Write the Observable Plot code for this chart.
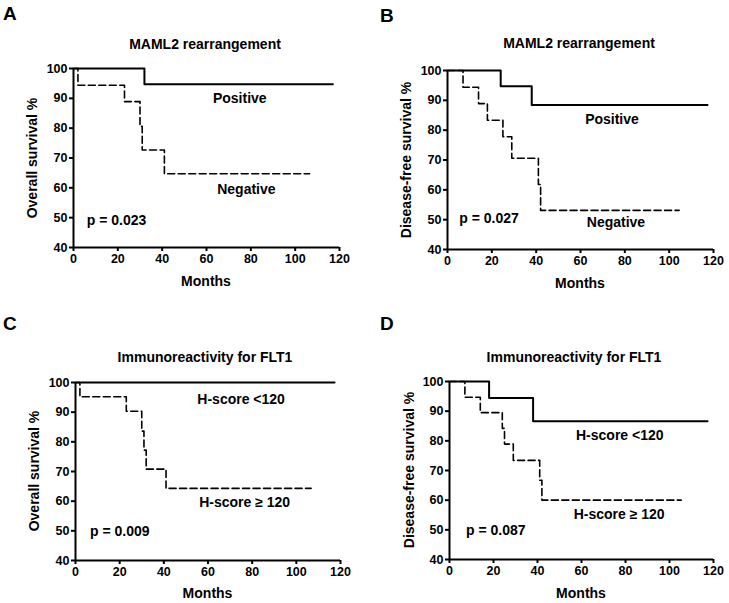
<!DOCTYPE html>
<html>
<head>
<meta charset="utf-8">
<script src="https://cdn.jsdelivr.net/npm/d3@7"></script>
<script src="https://cdn.jsdelivr.net/npm/@observablehq/plot@0.6"></script>
<style>
  html, body { margin: 0; padding: 0; background: #fff; }
  #root { position: relative; width: 729px; height: 603px; overflow: hidden; background: #fff;
          font-family: "Liberation Sans", Arial, sans-serif; font-weight: bold; color: #000; }
  .panel { position: absolute; }
  .panel svg { position: absolute; left: 0; top: 0; }
  .lbl { position: absolute; white-space: nowrap; line-height: 1; }
  .letter { font-size: 19px; }
  .title { font-size: 14px; transform: translate(-50%, -50%); }
  .xlab { font-size: 14px; transform: translate(-50%, -50%); }
  .ylab { font-size: 14px; transform: translate(-50%, -50%) rotate(-90deg); }
</style>
</head>
<body>
<div id="root"></div>
<script>
// ---------- data ----------
const xTicks = [0, 20, 40, 60, 80, 100, 120];
const yTicks = [40, 50, 60, 70, 80, 90, 100];

// Panel A: MAML2 rearrangement, overall survival
const aPosMonths = [0, 32, 117];
const aPosSurv   = [100, 94.7, 94.7];
const aNegMonths = [0, 2, 23, 30, 31, 41, 106.5];
const aNegSurv   = [100, 94.4, 88.9, 80.6, 72.7, 64.7, 64.7];

// Panel B: MAML2 rearrangement, disease-free survival
const bPosMonths = [0, 24, 38, 117.3];
const bPosSurv   = [100, 94.7, 88.4, 88.4];
const bNegMonths = [0, 7, 14, 18, 25, 29, 41, 42, 104.5];
const bNegSurv   = [100, 94.4, 88.9, 83.3, 77.8, 70.6, 61.8, 53.1, 53.1];

// Panel C: FLT1, overall survival
const cPosMonths = [0, 117.3];
const cPosSurv   = [100, 100];
const cNegMonths = [0, 2, 23, 30, 31, 32, 41, 106.7];
const cNegSurv   = [100, 95.2, 90.3, 83.6, 77.2, 70.8, 64.3, 64.3];

// Panel D: FLT1, disease-free survival
const dPosMonths = [0, 18, 38, 117.3];
const dPosSurv   = [100, 94.4, 86.6, 86.6];
const dNegMonths = [0, 7, 14, 24, 25, 29, 41, 42, 105.3];
const dNegSurv   = [100, 94.7, 89.5, 84.2, 78.9, 73.4, 66.7, 60.0, 60.0];

const panelLetters = ["A", "B", "C", "D"];
const panelTitles  = ["MAML2 rearrangement", "MAML2 rearrangement", "Immunoreactivity for FLT1", "Immunoreactivity for FLT1"];
const yLabels      = ["Overall survival %", "Disease-free survival %", "Overall survival %", "Disease-free survival %"];
const xLabel       = "Months";
const posLabels    = ["Positive", "Positive", "H-score <120", "H-score <120"];
const negLabels    = ["Negative", "Negative", "H-score \u2265 120", "H-score \u2265 120"];
const pValues      = ["p = 0.023", "p = 0.027", "p = 0.009", "p = 0.087"];

// ---------- layout ----------
const toRows = (m, s) => m.map((v, i) => ({month: v, surv: s[i]}));
const panels = [
  {left: 0, top: 0, w: 364, h: 300, ml: 73, mr: 25, mt: 68, mb: 53,
   pos: toRows(aPosMonths, aPosSurv), neg: toRows(aNegMonths, aNegSurv),
   posAt: [75, 89.9], negAt: [78, 59.4], pAt: [6, 49.0],
   letterAt: [3, 4], titleAt: [205, 44], xlabAt: 281, ylabAt: 32},
  {left: 364, top: 0, w: 365, h: 300, ml: 83, mr: 16, mt: 70, mb: 51,
   pos: toRows(bPosMonths, bPosSurv), neg: toRows(bNegMonths, bNegSurv),
   posAt: [74.2, 83.7], negAt: [76, 49.2], pAt: [5.3, 50.3],
   letterAt: [16, 6], titleAt: [215, 43], xlabAt: 283, ylabAt: 42},
  {left: 0, top: 300, w: 364, h: 303, ml: 75, mr: 24, mt: 82, mb: 43,
   pos: toRows(cPosMonths, cPosSurv), neg: toRows(cNegMonths, cNegSurv),
   posAt: [75, 94.1], negAt: [76.6, 59.6], pAt: [6.6, 49.8],
   letterAt: [3, 14], titleAt: [205, 57], xlabAt: 293, ylabAt: 34},
  {left: 364, top: 300, w: 365, h: 303, ml: 85, mr: 16, mt: 81, mb: 44,
   pos: toRows(dPosMonths, dPosSurv), neg: toRows(dNegMonths, dNegSurv),
   posAt: [77.4, 81.8], negAt: [77.1, 55.3], pAt: [7.5, 49.8],
   letterAt: [16, 14], titleAt: [210, 57], xlabAt: 293, ylabAt: 45}
];

const root = document.getElementById("root");
const font = '"Liberation Sans", Arial, sans-serif';

panels.forEach((p, i) => {
  const div = document.createElement("div");
  div.className = "panel";
  Object.assign(div.style, {left: p.left + "px", top: p.top + "px", width: p.w + "px", height: p.h + "px"});

  const chart = Plot.plot({
    width: p.w, height: p.h,
    marginLeft: p.ml, marginRight: p.mr, marginTop: p.mt, marginBottom: p.mb,
    style: {fontFamily: font, fontWeight: "bold", fontSize: "12.5px", color: "#000", background: "transparent", overflow: "visible"},
    x: {domain: [0, 120], label: null},
    y: {domain: [40, 100], label: null},
    marks: [
      Plot.axisX({ticks: xTicks, tickSize: 4, tickPadding: 3, strokeWidth: 2, fill: "#000", fontSize: 12.5, fontWeight: "bold", label: null}),
      Plot.axisY({ticks: yTicks, tickSize: 4, tickPadding: 2, strokeWidth: 2, fill: "#000", fontSize: 12.5, fontWeight: "bold", label: null}),
      Plot.ruleX([0], {stroke: "#000", strokeWidth: 2}),
      Plot.ruleY([40], {stroke: "#000", strokeWidth: 2}),
      Plot.line(p.neg, {x: "month", y: "surv", curve: "step-after", stroke: "#000", strokeWidth: 1.6, strokeDasharray: "7,3.5"}),
      Plot.line(p.pos, {x: "month", y: "surv", curve: "step-after", stroke: "#000", strokeWidth: 2}),
      Plot.text([posLabels[i]], {x: p.posAt[0], y: p.posAt[1], text: d => d, fontSize: 14, fontWeight: "bold", fill: "#000"}),
      Plot.text([negLabels[i]], {x: p.negAt[0], y: p.negAt[1], text: d => d, fontSize: 14, fontWeight: "bold", fill: "#000"}),
      Plot.text([pValues[i]], {x: p.pAt[0], y: p.pAt[1], text: d => d, textAnchor: "start", fontSize: 14, fontWeight: "bold", fill: "#000"})
    ]
  });
  div.appendChild(chart);

  const mk = (cls, txt, x, y) => {
    const e = document.createElement("div");
    e.className = "lbl " + cls;
    e.textContent = txt;
    e.style.left = x + "px";
    e.style.top = y + "px";
    div.appendChild(e);
  };
  mk("letter", panelLetters[i], p.letterAt[0], p.letterAt[1]);
  mk("title", panelTitles[i], p.titleAt[0], p.titleAt[1]);
  mk("xlab", xLabel, p.ml + (p.w - p.ml - p.mr) / 2, p.xlabAt);
  mk("ylab", yLabels[i], p.ylabAt, p.mt + (p.h - p.mt - p.mb) / 2);
  root.appendChild(div);
});
</script>
</body>
</html>
